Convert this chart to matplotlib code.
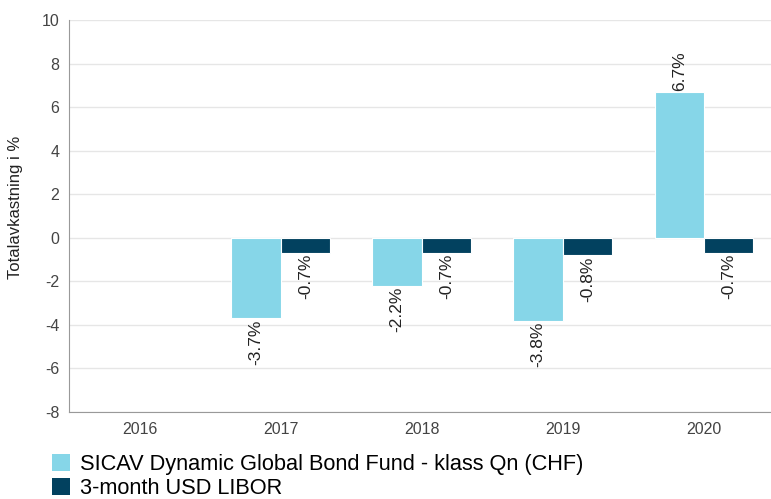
import numpy as np
import matplotlib.pyplot as plt
from matplotlib.patches import Patch

plt.rcParams['font.family'] = ['Liberation Sans', 'DejaVu Sans']
plt.rcParams['axes.unicode_minus'] = False

# Data
years = ["2016", "2017", "2018", "2019", "2020"]
fund = [np.nan, -3.7, -2.2, -3.8, 6.7]
libor = [np.nan, -0.7, -0.7, -0.8, -0.7]
series_names = ["SICAV Dynamic Global Bond Fund - klass Qn (CHF)", "3-month USD LIBOR"]
colors = ["#86d6e8", "#02415f"]

fig = plt.figure(figsize=(7.71, 4.99), dpi=100)
ax = fig.add_axes([0.0895, 0.1743, 0.9105, 0.7857])

x = np.arange(len(years))
w = 0.35
for vals, off, col in [(fund, -w / 2, colors[0]), (libor, w / 2, colors[1])]:
    ax.bar(x + off, vals, w, color=col, edgecolor="white", linewidth=0.8, zorder=3)
    for xi, v in zip(x + off, vals):
        if np.isnan(v):
            continue
        ax.text(xi, v + (0.05 if v > 0 else -0.05), f"{v:.1f}%", rotation=90,
                ha="center", va="bottom" if v > 0 else "top", fontsize=12.5, color="#222222", zorder=4)

ax.set_xlim(-0.5, 4.475)
ax.set_ylim(-8, 10)
ax.set_yticks(np.arange(-8, 11, 2))
ax.set_xticks(x)
ax.set_xticklabels(years)
ax.tick_params(axis="both", length=0, labelsize=11.5, labelcolor="#444444")
ax.tick_params(axis="x", pad=7)
ax.tick_params(axis="y", pad=7)
ax.grid(axis="y", color="#e6e6e6", linewidth=1, zorder=0)
for s in ["top", "right"]:
    ax.spines[s].set_visible(False)
for s in ["left", "bottom"]:
    ax.spines[s].set_color("#999999")
ax.set_ylabel("Totalavkastning i %", fontsize=12, color="#222222")
ax.yaxis.set_label_coords(-0.066, 0.523)

handles = [Patch(facecolor=c, edgecolor="none") for c in colors]
fig.legend(handles, series_names, loc="upper left", bbox_to_anchor=(0.068, 0.09),
           frameon=False, fontsize=15.7, handlelength=0.8, handleheight=0.8,
           handletextpad=0.45, labelspacing=0.15, borderaxespad=0, borderpad=0)

fig.savefig("out.png", dpi=100)
